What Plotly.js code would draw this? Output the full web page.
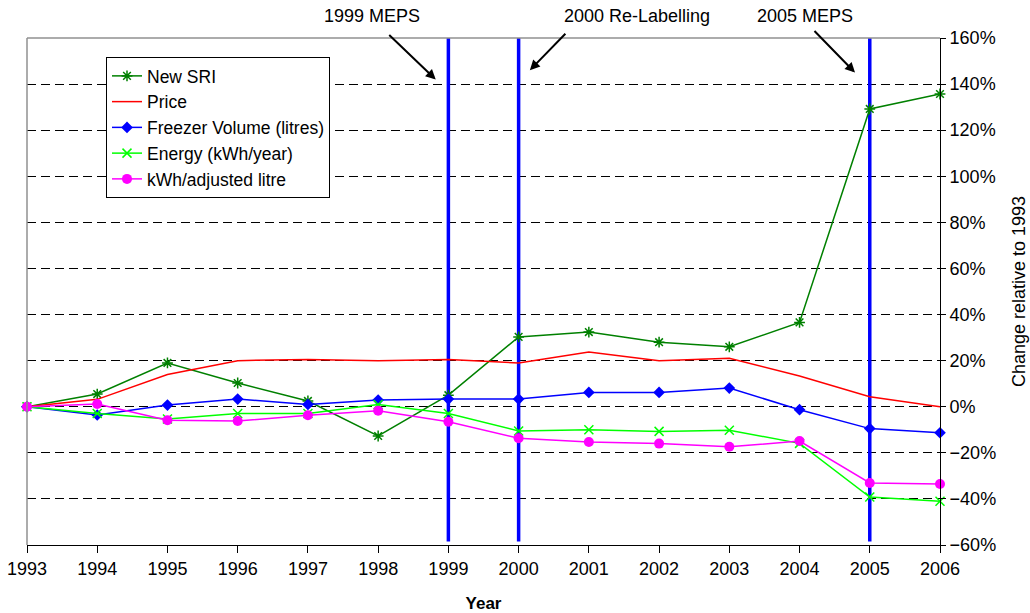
<!DOCTYPE html>
<html>
<head>
<meta charset="utf-8">
<script src="https://cdn.plot.ly/plotly-3.0.1.min.js"></script>
<style>html,body{margin:0;padding:0;background:#fff}#chart{width:1030px;height:613px}</style>
</head>
<body>
<div id="chart"></div>
<script>
const years = [1993,1994,1995,1996,1997,1998,1999,2000,2001,2002,2003,2004,2005,2006];
const newSRI   = [0, 5.5, 19, 10.3, 2.5, -12.7, 5, 30.3, 32.4, 28, 26, 36.6, 129.2, 135.7];
const price    = [0, 3.2, 14, 20, 20.5, 20, 20.5, 19, 23.7, 20, 21, 13.3, 4.3, 0];
const freezerVolume = [0, -3.6, 0.7, 3.3, 1, 2.9, 3.3, 3.3, 6.2, 6.2, 8.1, -1.3, -9.5, -11.3];
const energy   = [0, -2.9, -5.3, -2.9, -2.9, 1, -2.9, -10.5, -10, -10.7, -10.2, -15.9, -39.2, -41];
const kwhAdjLitre = [0, 1.2, -5.9, -6.2, -3.7, -1.7, -6.5, -13.7, -15.3, -16, -17.4, -14.9, -33.1, -33.5];
const seriesNames = ['New SRI','Price','Freezer Volume (litres)','Energy (kWh/year)','kWh/adjusted litre'];
const eventYears = [1999, 2000, 2005];
const eventLabels = ['1999 MEPS','2000 Re-Labelling','2005 MEPS'];

const font = 'Liberation Sans, Arial, sans-serif';
const FS = 18;
const traces = [
  {x: years, y: newSRI, name: seriesNames[0], mode: 'lines+markers',
   line: {color: '#008000', width: 1.5}, marker: {symbol: 'asterisk-open', size: 9, color: '#008000', line: {color: '#008000', width: 1.5}}},
  {x: years, y: price, name: seriesNames[1], mode: 'lines',
   line: {color: '#FF0000', width: 1.5}},
  {x: years, y: freezerVolume, name: seriesNames[2], mode: 'lines+markers',
   line: {color: '#0000FF', width: 1.5}, marker: {symbol: 'diamond', size: 9, color: '#0000FF'}},
  {x: years, y: energy, name: seriesNames[3], mode: 'lines+markers',
   line: {color: '#00FF00', width: 1.5}, marker: {symbol: 'x-thin-open', size: 9, color: '#00FF00', line: {color: '#00FF00', width: 1.5}}},
  {x: years, y: kwhAdjLitre, name: seriesNames[4], mode: 'lines+markers',
   line: {color: '#FF00FF', width: 1.5}, marker: {symbol: 'circle', size: 10, color: '#FF00FF'}}
].map(t => Object.assign(t, {cliponaxis: false}));

const shapes = eventYears.map(yr => ({
  type: 'line', xref: 'x', yref: 'y', x0: yr, x1: yr, y0: -58.5, y1: 160,
  line: {color: '#0000FF', width: 3.5}, layer: 'between'
}));
shapes.push({type: 'line', xref: 'paper', yref: 'paper', x0: 0, x1: 1, y0: 1, y1: 1, line: {color: '#909090', width: 1.5}, layer: 'above'});
shapes.push({type: 'line', xref: 'paper', yref: 'paper', x0: 0, x1: 0, y0: 0, y1: 1, line: {color: '#909090', width: 1.5}, layer: 'above'});

const arrowHeads = [[1998.82, 142], [2000.16, 146], [2004.79, 145]];
const arrowOffsets = [[-48, -46], [37, -38], [-42, -43]];
const textX = [372, 637, 805];
const annotations = [];
eventLabels.forEach((lab, i) => {
  annotations.push({xref: 'x', yref: 'y', x: arrowHeads[i][0], y: arrowHeads[i][1], text: '',
    showarrow: true, arrowhead: 2, arrowsize: 1, arrowwidth: 2, arrowcolor: '#000',
    ax: arrowOffsets[i][0], ay: arrowOffsets[i][1], axref: 'pixel', ayref: 'pixel'});
  annotations.push({xref: 'paper', yref: 'paper', x: (textX[i] - 27) / 913, y: (545 - 16) / 507,
    text: lab, showarrow: false, xanchor: 'center', yanchor: 'middle',
    font: {family: font, size: FS, color: '#000'}});
});

const layout = {
  width: 1030, height: 613,
  margin: {l: 27, r: 90, t: 38, b: 68},
  paper_bgcolor: '#fff', plot_bgcolor: '#fff',
  font: {family: font, size: FS, color: '#000'},
  showlegend: true,
  legend: {x: (106 - 27) / 913, y: (545 - 57) / 507, xanchor: 'left', yanchor: 'top',
    bgcolor: '#fff', bordercolor: '#000', borderwidth: 1, font: {family: font, size: 17.5},
    tracegroupgap: 0, itemwidth: 30},
  xaxis: {range: [1993, 2006], tickvals: years, ticktext: years.map(String),
    showline: true, linecolor: '#000', linewidth: 1, ticks: 'outside', ticklen: 7, tickcolor: '#000',
    showgrid: false, zeroline: false, tickfont: {family: font, size: FS},
    title: {text: '<b>Year</b>', font: {family: font, size: 17}, standoff: 19}},
  yaxis: {side: 'right', range: [-60, 160], dtick: 20, tick0: 0, ticksuffix: '%',
    showline: true, linecolor: '#000', linewidth: 1, ticks: 'outside', ticklen: 5, tickcolor: '#000',
    showgrid: true, gridcolor: '#000', griddash: '9px,5px', gridwidth: 1, zeroline: false,
    tickfont: {family: font, size: FS},
    title: {text: 'Change relative to 1993', font: {family: font, size: FS}, standoff: 17}},
  shapes: shapes,
  annotations: annotations
};
Plotly.newPlot('chart', traces, layout, {displayModeBar: false, staticPlot: true});
</script>
</body>
</html>
